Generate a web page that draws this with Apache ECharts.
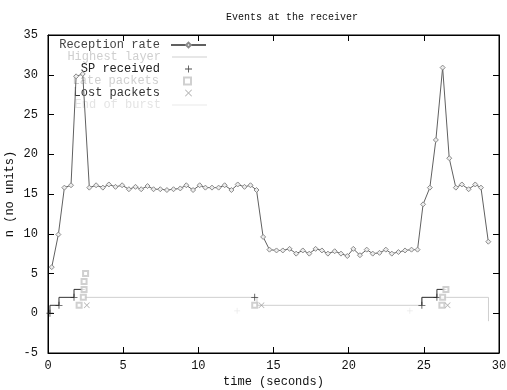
<!DOCTYPE html>
<html>
<head>
<meta charset="utf-8">
<script src="https://cdn.jsdelivr.net/npm/echarts@6/dist/echarts.min.js"></script>
<style>
  html, body { margin: 0; padding: 0; background: #fff; }
  #chart { width: 507px; height: 390px; }
</style>
</head>
<body>
<div id="chart"></div>
<script>
// reception rate samples (time in seconds, rate in units)
const rateTime = [0.25, 0.69, 1.09, 1.53, 1.87, 2.31, 2.75, 3.2, 3.65, 4.05, 4.49, 4.93, 5.38, 5.82, 6.2, 6.62, 7.02, 7.47, 7.91, 8.35, 8.8, 9.2, 9.65, 10.09, 10.47, 10.91, 11.35, 11.75, 12.2, 12.62, 13.07, 13.47, 13.87, 14.31, 14.73, 15.2, 15.62, 16.07, 16.51, 16.95, 17.38, 17.8, 18.22, 18.62, 19.07, 19.49, 19.91, 20.31, 20.75, 21.2, 21.6, 22.05, 22.47, 22.87, 23.31, 23.75, 24.18, 24.58, 24.95, 25.4, 25.8, 26.25, 26.69, 27.13, 27.53, 27.98, 28.42, 28.8, 29.29];
const rateValue = [5.8, 9.9, 15.8, 16.1, 29.8, 30.1, 15.8, 16.1, 15.8, 16.2, 15.9, 16.1, 15.6, 15.9, 15.6, 16.0, 15.6, 15.6, 15.5, 15.6, 15.7, 16.1, 15.5, 16.1, 15.8, 15.8, 15.8, 16.1, 15.5, 16.2, 15.9, 16.1, 15.5, 9.6, 8.0, 7.9, 7.9, 8.1, 7.5, 7.9, 7.5, 8.1, 7.9, 7.5, 7.8, 7.5, 7.2, 8.1, 7.3, 8.0, 7.5, 7.6, 8.0, 7.5, 7.7, 7.9, 8.0, 8.0, 13.7, 15.8, 21.8, 30.9, 19.5, 15.8, 16.2, 15.6, 16.2, 15.8, 9.0];

// highest layer (corner points of the step line)
const layerTime = [2.4, 13.9, 13.9, 24.87, 24.87, 26.5, 29.3, 29.3];
const layerValue = [2, 2, 1, 1, 2, 2, 2, -1];

// subscription steps drawn in black next to the SP markers
const stepTimeA = [0.13, 0.73, 1.73, 2.45];
const stepValueA = [0, 1, 2, 3];
const stepTimeB = [24.87, 25.87, 26.5];
const stepValueB = [1, 2, 3];

const spTime = [0.13, 0.73, 1.73, 13.75, 24.87, 25.87];
const spValue = [0, 1, 2, 2, 1, 2];

const lateTime = [2.07, 2.35, 2.4, 2.4, 2.5, 13.75, 26.2, 26.25, 26.47];
const lateValue = [1, 2, 3, 4, 5, 1, 1, 2, 3];

const lostTime = [2.58, 14.2, 26.58];
const lostValue = [1, 1, 1];

const burstTime = [12.58, 24.07];
const burstValue = [0.3, 0.3];

const xTicks = [0, 30, 5];   // min, max, step
const yTicks = [-5, 35, 5];

const pairs = (xs, ys) => xs.map((x, i) => [x, ys[i]]);

const FONT = "'Liberation Mono', 'DejaVu Sans Mono', monospace";
const PLUS = "path://M4.4,0H5.6V4.4H10V5.6H5.6V10H4.4V5.6H0V4.4H4.4Z";
const CROSS = "path://M0.8,0L5,4.2L9.2,0L10,0.8L5.8,5L10,9.2L9.2,10L5,5.8L0.8,10L0,9.2L4.2,5L0,0.8Z";
const LINE_ICON = "path://M0,0H35V1H0Z";

const chart = echarts.init(document.getElementById("chart"));

// gnuplot style key: text right aligned, sample on the right
const legendRows = [
  { name: "Reception rate", color: "#444", line: true },
  { name: "Highest layer", color: "#cfcfcf", line: true, icon: LINE_ICON },
  { name: "SP received", color: "#222" },
  { name: "Late packets", color: "#cfcfcf" },
  { name: "Lost packets", color: "#333" },
  { name: "End of burst", color: "#e4e4e4", line: true, icon: LINE_ICON },
];

const option = {
  animation: false,
  title: {
    text: "Events at the receiver",
    left: 221,
    top: 7,
    textStyle: { fontFamily: FONT, fontSize: 10, fontWeight: "normal", color: "#111" },
  },
  legend: legendRows.map((row, i) => ({
    data: [row.icon ? { name: row.name, icon: row.icon } : row.name],
    orient: "vertical",
    align: "right",
    right: row.line ? 300 : 315,
    top: 39 + i * 12,
    padding: 0,
    itemWidth: row.line ? 35 : 7,
    itemHeight: row.line ? 6 : 7,
    selectedMode: false,
    textStyle: {
      fontFamily: FONT,
      fontSize: 12,
      color: row.color,
      padding: [0, row.line ? 6 : 20, 0, 0],
    },
  })),
  grid: {
    left: 48,
    right: 8,
    top: 35,
    bottom: 37,
    outerBoundsMode: "none",
    show: true,
    borderColor: "#000",
    borderWidth: 1,
  },
  xAxis: [
    {
      type: "value",
      min: xTicks[0],
      max: xTicks[1],
      interval: xTicks[2],
      name: "time (seconds)",
      nameLocation: "middle",
      nameGap: 23,
      nameMoveOverlap: false,
      nameTextStyle: { fontFamily: FONT, fontSize: 12, color: "#111" },
      axisLine: { show: true, onZero: false, lineStyle: { color: "#000" } },
      axisTick: { inside: true, length: 6, lineStyle: { color: "#000" } },
      axisLabel: { fontFamily: FONT, fontSize: 12, color: "#111", margin: 7 },
      splitLine: { show: false },
    },
    {
      type: "value",
      position: "top",
      min: xTicks[0],
      max: xTicks[1],
      interval: xTicks[2],
      axisLine: { show: true, onZero: false, lineStyle: { color: "#000" } },
      axisTick: { inside: true, length: 6, lineStyle: { color: "#000" } },
      axisLabel: { show: false },
      splitLine: { show: false },
    },
  ],
  yAxis: [
    {
      type: "value",
      min: yTicks[0],
      max: yTicks[1],
      interval: yTicks[2],
      name: "n (no units)",
      nameLocation: "middle",
      nameGap: 32,
      nameMoveOverlap: false,
      nameTextStyle: { fontFamily: FONT, fontSize: 12, color: "#111" },
      axisLine: { show: true, onZero: false, lineStyle: { color: "#000" } },
      axisTick: { inside: true, length: 6, lineStyle: { color: "#000" } },
      axisLabel: { fontFamily: FONT, fontSize: 12, color: "#111", margin: 10 },
      splitLine: { show: false },
    },
    {
      type: "value",
      position: "right",
      min: yTicks[0],
      max: yTicks[1],
      interval: yTicks[2],
      axisLine: { show: true, onZero: false, lineStyle: { color: "#000" } },
      axisTick: { inside: true, length: 6, lineStyle: { color: "#000" } },
      axisLabel: { show: false },
      splitLine: { show: false },
    },
  ],
  series: [
    {
      name: "Highest layer",
      type: "line",
      data: pairs(layerTime, layerValue),
      symbol: "none",
      lineStyle: { color: "#cfcfcf", width: 1 },
      itemStyle: { color: "#cfcfcf" },
      z: 2,
    },
    {
      name: "steps",
      type: "line",
      step: "start",
      data: pairs(stepTimeA, stepValueA),
      symbol: "none",
      lineStyle: { color: "#333", width: 1 },
      z: 3,
    },
    {
      name: "steps",
      type: "line",
      step: "start",
      data: pairs(stepTimeB, stepValueB),
      symbol: "none",
      lineStyle: { color: "#333", width: 1 },
      z: 3,
    },
    {
      name: "Reception rate",
      type: "line",
      data: pairs(rateTime, rateValue),
      symbol: "diamond",
      symbolSize: 5,
      lineStyle: { color: "#606060", width: 1 },
      itemStyle: { color: "#ececec", borderColor: "#8a8a8a", borderWidth: 1 },
      z: 4,
    },
    {
      name: "SP received",
      type: "scatter",
      data: pairs(spTime, spValue),
      symbol: PLUS,
      symbolSize: 7,
      itemStyle: { color: "#222" },
      z: 5,
    },
    {
      name: "Late packets",
      type: "scatter",
      data: pairs(lateTime, lateValue),
      symbol: "emptyRect",
      symbolSize: 5,
      itemStyle: { color: "#c4c4c4", borderWidth: 1 },
      z: 5,
    },
    {
      name: "Lost packets",
      type: "scatter",
      data: pairs(lostTime, lostValue),
      symbol: CROSS,
      symbolSize: 6,
      itemStyle: { color: "#999" },
      z: 5,
    },
    {
      name: "End of burst",
      type: "scatter",
      data: pairs(burstTime, burstValue),
      symbol: PLUS,
      symbolSize: 6,
      itemStyle: { color: "#e4e4e4" },
      z: 5,
    },
  ],
};

chart.setOption(option);
</script>
</body>
</html>
